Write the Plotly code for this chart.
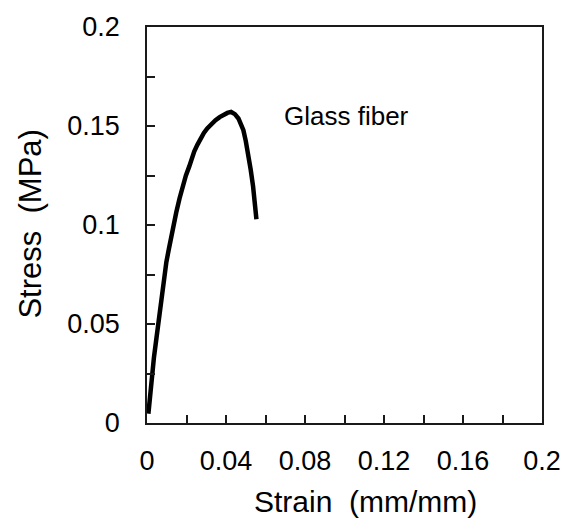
import plotly.graph_objects as go

strain = [0.0007, 0.0015, 0.0023, 0.0035, 0.0048, 0.0060, 0.0073, 0.0086, 0.0098, 0.0111,
          0.0123, 0.0139, 0.0148, 0.0165, 0.0181, 0.0197, 0.0214, 0.0226, 0.0239, 0.0255,
          0.0272, 0.0288, 0.0305, 0.0326, 0.0347, 0.0368, 0.0388, 0.0407, 0.0426, 0.0445,
          0.0463, 0.0476, 0.0488, 0.0500, 0.0512, 0.0525, 0.0537, 0.0546, 0.0554]
stress = [0.0047, 0.0140, 0.0230, 0.0330, 0.0430, 0.0530, 0.0630, 0.0722, 0.0813, 0.0880,
          0.0947, 0.1021, 0.1063, 0.1135, 0.1196, 0.1250, 0.1296, 0.1335, 0.1371, 0.1405,
          0.1438, 0.1465, 0.1488, 0.1510, 0.1529, 0.1545, 0.1558, 0.1566, 0.1571, 0.1560,
          0.1538, 0.1512, 0.1479, 0.1425, 0.1363, 0.1280, 0.1196, 0.1112, 0.1029]

x_ticks = [0, 0.04, 0.08, 0.12, 0.16, 0.2]
x_ticklabels = ["0", "0.04", "0.08", "0.12", "0.16", "0.2"]
y_ticks = [0, 0.05, 0.1, 0.15, 0.2]
y_ticklabels = ["0", "0.05", "0.1", "0.15", "0.2"]

FONT = "Liberation Sans, Arial, sans-serif"
W, H = 573, 527
L, R, T, B = 147, 24, 22, 104
PW, PH = W - L - R, H - T - B

fig = go.Figure()
fig.add_trace(go.Scatter(x=strain, y=stress, mode="lines",
                         line=dict(color="black", width=4.5),
                         showlegend=False))

axis_common = dict(showgrid=False, zeroline=False, showline=True, linecolor="#1a1a1a",
                   linewidth=1.5, mirror=True, ticks="inside", ticklen=8, tickwidth=1.5,
                   tickcolor="#1a1a1a", tickfont=dict(family=FONT, size=27, color="black"))

fig.update_xaxes(range=[0, 0.2], tickvals=x_ticks, ticktext=x_ticklabels,
                 minor=dict(dtick=0.02, ticks="inside", ticklen=8, tickwidth=1.5, tickcolor="#1a1a1a"),
                 ticklabelstandoff=13, **axis_common)
fig.update_yaxes(range=[0, 0.2], tickvals=y_ticks, ticktext=y_ticklabels,
                 minor=dict(dtick=0.025, ticks="inside", ticklen=8, tickwidth=1.5, tickcolor="#1a1a1a"),
                 ticklabelstandoff=20, **axis_common)

fig.add_annotation(x=0.0682, y=0.1553, xref="x", yref="y", text="Glass fiber",
                   showarrow=False, xanchor="left", yanchor="middle",
                   font=dict(family=FONT, size=26, color="black"))
fig.add_annotation(x=(369 - L) / PW, y=(H - B - 502) / PH, xref="paper", yref="paper",
                   text="Strain  (mm/mm)", showarrow=False, xanchor="center", yanchor="middle",
                   font=dict(family=FONT, size=30, color="black"))
fig.add_annotation(x=(28 - L) / PW, y=(H - B - 222) / PH, xref="paper", yref="paper",
                   text="Stress  (MPa)", textangle=-90, showarrow=False,
                   xanchor="center", yanchor="middle",
                   font=dict(family=FONT, size=31, color="black"))

fig.update_layout(width=W, height=H, margin=dict(l=L, r=R, t=T, b=B),
                  plot_bgcolor="white", paper_bgcolor="white")

fig.write_html("out.html")
